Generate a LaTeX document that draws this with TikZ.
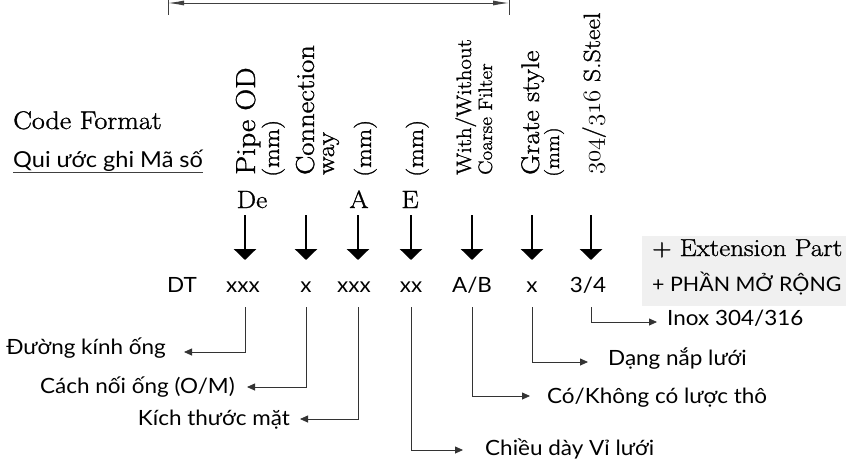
\documentclass[tikz,border=0pt]{standalone}
\usepackage{fontspec}
\setmainfont{Latin Modern Roman}[FakeStretch=1.1,FakeBold=1.2]
\newfontfamily\sansf{Lato}[FakeStretch=1.07]
\usetikzlibrary{arrows.meta}
\begin{document}
\begin{tikzpicture}[x=1pt,y=-1pt,
  vt/.style={rotate=90, anchor=base west, inner sep=0pt, font=\fontsize{25}{25}\selectfont},
  vs/.style={vt, font=\fontsize{23}{23}\selectfont},
  code/.style={anchor=base, inner sep=0pt, font=\sansf\fontsize{21}{21}\selectfont},
  desc/.style={inner sep=0pt, font=\sansf\fontsize{21}{21}\selectfont},
  letter/.style={anchor=base, inner sep=0pt, font=\fontsize{25}{25}\selectfont},
  bigarrow/.style={line width=2.6pt, -{Triangle[width=22pt,length=11pt]}},
  conn/.style={line width=0.8pt, draw=black!80, -{Triangle[width=7pt,length=8pt]}},
  dim/.style={line width=0.9pt, draw=black!75}]
\useasboundingbox (0,0) rectangle (846,461);
% top dimension line
\coordinate (dl) at (168,3);
\coordinate (dr) at (509,3);
\draw[dim] (168,0) -- (168,15);
\draw[dim] (509,0) -- (509,15);
\draw[dim, {Latex[length=16pt,width=5pt]}-{Latex[length=16pt,width=5pt]}] (dl) -- (dr);
% titles
\node[anchor=base west, inner sep=0pt, font=\fontsize{25.5}{25.5}\selectfont] (cf) at (13,129) {Code Format};
\node[anchor=base west, inner sep=0pt, font=\sansf\fontsize{22}{22}\selectfont] (qu) at (13,167) {Qui ước ghi Mã số};
\draw[line width=0.9pt, draw=black!75] (qu.base west |- 0,172) -- (qu.base east |- 0,172);
% vertical headings
\node[vt, font=\fontsize{27.5}{27.5}\selectfont] (h1) at (255,175) {Pipe OD};
\node[vs] (h1m) at (279,177) {(mm)};
\node[vt, font=\fontsize{26}{26}\selectfont] (h2) at (314,175) {Connection};
\node[vt] (h2b) at (334,175) {way};
\node[vs] (h3m) at (371,177) {(mm)};
\node[vs] (h4m) at (423,177) {(mm)};
\node[vt, font=\fontsize{20.8}{20.8}\selectfont] (h5) at (471,175) {With/Without};
\node[vt, font=\fontsize{19.4}{19.4}\selectfont] (h5b) at (492,175) {Coarse Filter};
\node[vt, font=\fontsize{25.5}{25.5}\selectfont] (h6) at (539,175) {Grate style};
\node[vs, font=\fontsize{20}{20}\selectfont] (h6m) at (559,177) {(mm)};
\node[vt, font=\fontsize{23.5}{23.5}\selectfont] (h7) at (600,175) {$\mathnormal{304}$/$\mathnormal{316}$ S.Steel};
% letters
\node[letter] (lDe) at (252,208) {De};
\node[letter] (lA) at (359,208) {A};
\node[letter] (lE) at (410,208) {E};
% codes
\node[code] (dt) at (182,292) {DT};
\node[code] (c1) at (243,292) {xxx};
\node[code] (c2) at (306,292) {x};
\node[code] (c3) at (354,292) {xxx};
\node[code] (c4) at (411,292) {xx};
\node[code] (c5) at (472,292) {A/B};
\node[code] (c6) at (532,292) {x};
\node[code] (c7) at (588,292) {3/4};
% big arrows
\foreach \i/\x in {1/245,2/306,3/358,4/411,5/472,6/532,7/591}{
  \coordinate (top\i) at (\x,215);
  \coordinate (tip\i) at (\x,260);
  \draw[bigarrow] (top\i) -- (tip\i);
}
% extension box
\fill[black!6] (642,236) rectangle (846,306);
\node[anchor=base west, inner sep=0pt, font=\fontsize{24.5}{24.5}\selectfont] (ext) at (652,256) {+ Extension Part};
\node[anchor=base west, inner sep=0pt, font=\sansf\fontsize{20}{20}\selectfont] (extv) at (652,291) {+ PHẦN MỞ RỘNG};
% descriptions
\node[desc, anchor=base east] (d1) at (166,354) {Đường kính ống};
\node[desc, anchor=base east] (d2) at (235,393) {Cách nối ống (O/M)};
\node[desc, anchor=base east] (d3) at (290,425) {Kích thước mặt};
\node[desc, anchor=base west] (d4) at (485,455) {Chiều dày Vỉ lưới};
\node[desc, anchor=base west] (d5) at (547,403) {Có/Không có lược thô};
\node[desc, anchor=base west] (d6) at (608,365) {Dạng nắp lưới};
\node[desc, anchor=base west] (d7) at (667,325) {Inox 304/316};
\coordinate (e1) at (184,352);
\coordinate (e2) at (247,387);
\coordinate (e3) at (300,419);
\coordinate (e4) at (463,450);
\coordinate (e5) at (530,396);
\coordinate (e6) at (588,362);
\coordinate (e7) at (657,322);
\foreach \i in {1,...,7}{
  \draw[conn] (top\i |- 0,307) |- (e\i);
}
\end{tikzpicture}
\end{document}
